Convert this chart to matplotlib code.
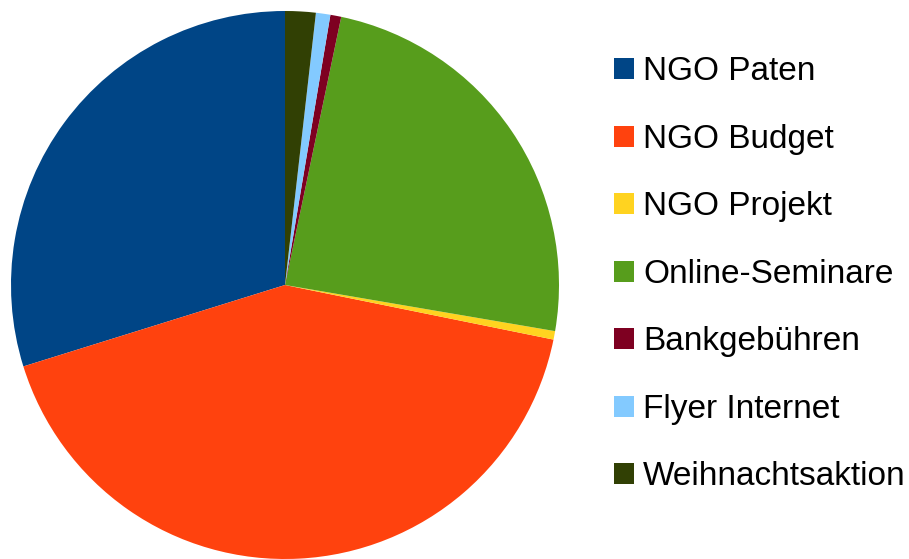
import matplotlib
matplotlib.use("Agg")
import matplotlib.pyplot as plt

plt.rcParams['font.family'] = ['Liberation Sans', 'DejaVu Sans']

labels = ["NGO Paten", "NGO Budget", "NGO Projekt", "Online-Seminare",
          "Bankgebühren", "Flyer Internet", "Weihnachtsaktion"]
shares = [29.8, 42.0, 0.5, 24.4, 0.64, 0.85, 1.8]
colors = ["#004586", "#ff420e", "#ffd320", "#579d1c",
          "#7e0021", "#83caff", "#314004"]

W, H = 909, 559
fig = plt.figure(figsize=(W / 100, H / 100), dpi=100)

# pie: center ~ (285, 285) px, radius ~274 px
r = 274
ax = fig.add_axes([(285 - r) / W, (H - 285 - r) / H, 2 * r / W, 2 * r / H])
wedges, _ = ax.pie(shares, colors=colors, startangle=90, counterclock=True,
                   radius=1.0, wedgeprops=dict(linewidth=0))
for w in wedges:
    w.set_clip_on(False)
ax.set_xlim(-1, 1)
ax.set_ylim(-1, 1)
ax.set_aspect('equal')
ax.axis('off')

fs = 24
fpx = fs * 100 / 72
fig.legend(wedges, labels, loc='upper left',
           bbox_to_anchor=(614 / W, 1 - 56.5 / H),
           frameon=False, fontsize=fs, borderpad=0, borderaxespad=0,
           handlelength=20 / fpx, handleheight=20 / fpx,
           handletextpad=9 / fpx, labelspacing=1.095)

fig.savefig("out.png", dpi=100)
